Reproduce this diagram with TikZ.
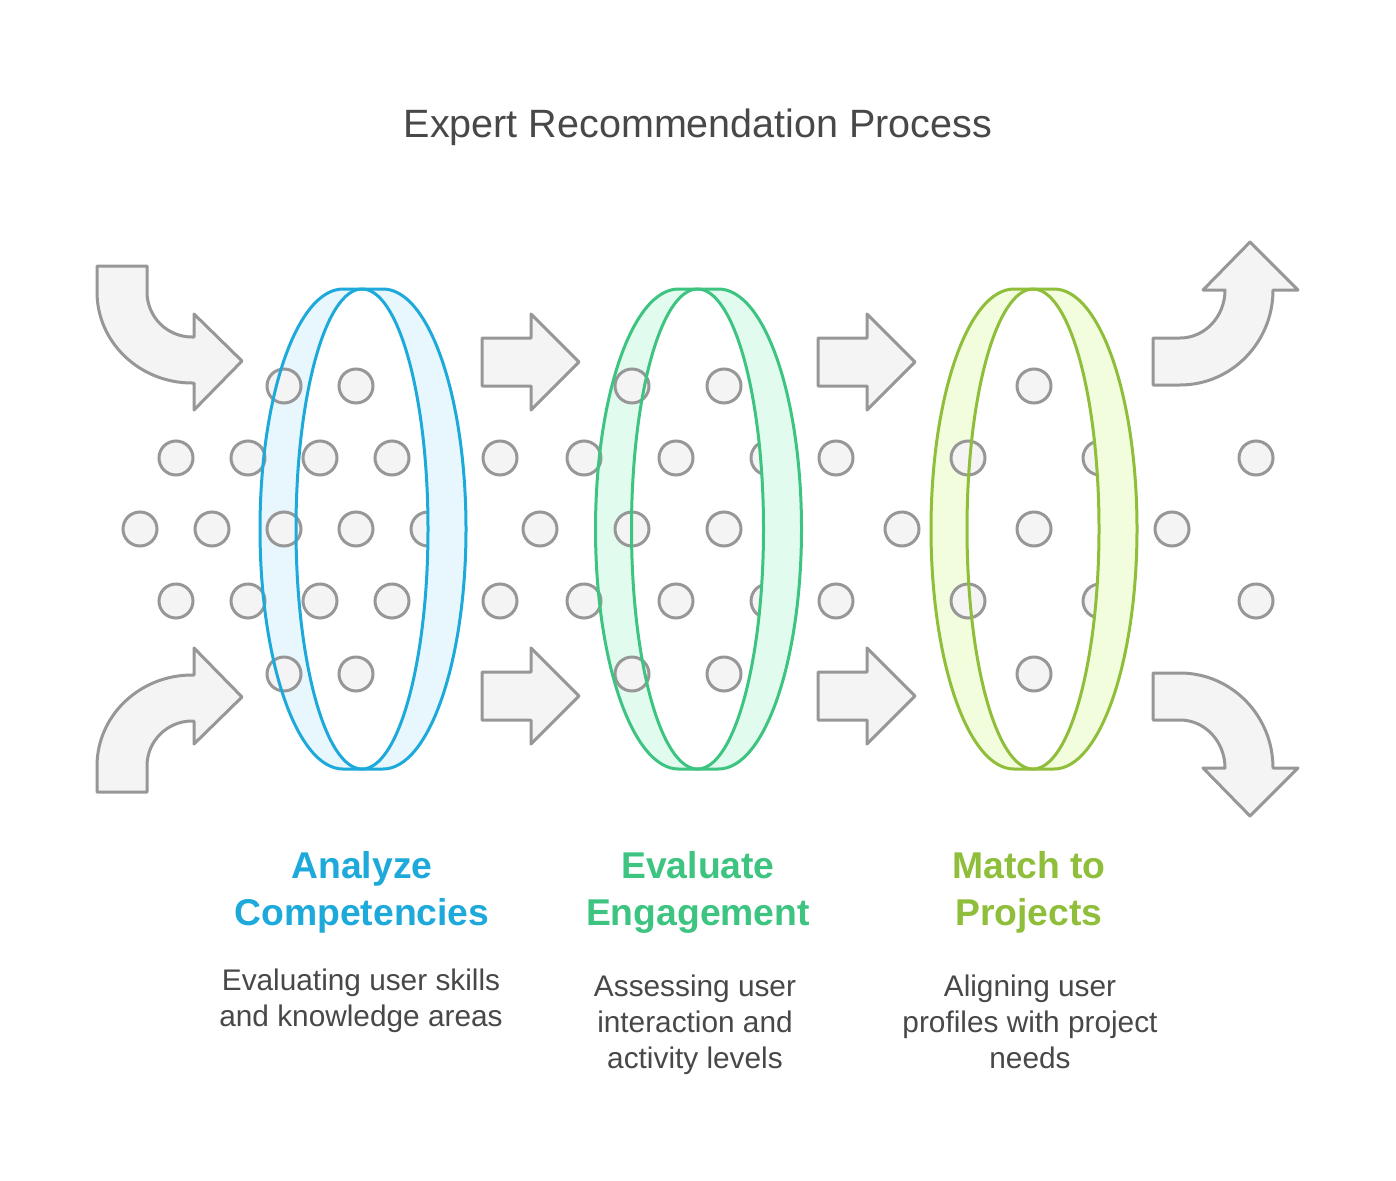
\documentclass[tikz,border=0pt]{standalone}
\usepackage{fontspec}
\setmainfont{Liberation Sans}
\definecolor{grayline}{HTML}{979797}
\definecolor{grayfill}{HTML}{F4F4F4}
\definecolor{txt}{HTML}{484848}
\definecolor{blueline}{HTML}{1DAADB}
\definecolor{bluefill}{HTML}{E8F7FD}
\definecolor{greenline}{HTML}{3CC480}
\definecolor{greenfill}{HTML}{E1FBEF}
\definecolor{limeline}{HTML}{8FBE3A}
\definecolor{limefill}{HTML}{F2FDDD}
\newcommand\myringback[2]{%
  \fill[#2, even odd rule] ({#1+21},-289) -- ({#1-19},-289)
    arc[start angle=90, end angle=270, x radius=83, y radius=240]
    -- ({#1+21},-769)
    arc[start angle=-90, end angle=90, x radius=83, y radius=240] -- cycle
    ({#1},-529) ellipse [x radius=66, y radius=240];}
\newcommand\myringfront[3]{%
  \fill[#3] ({#1},-289) -- ({#1+21},-289)
    arc[start angle=90, end angle=-90, x radius=83, y radius=240]
    -- ({#1},-769)
    arc[start angle=-90, end angle=90, x radius=66, y radius=240] -- cycle;
  \draw[ringline=#2] ({#1+21},-289) -- ({#1-19},-289)
    arc[start angle=90, end angle=270, x radius=83, y radius=240]
    -- ({#1+21},-769)
    arc[start angle=-90, end angle=90, x radius=83, y radius=240] -- cycle;
  \draw[ringline=#2] ({#1},-529) ellipse [x radius=66, y radius=240];}
\begin{document}
\begin{tikzpicture}[x=1pt, y=1pt,
  garrow/.style={draw=grayline, fill=grayfill, line width=3pt, line join=round},
  dot/.style={circle, draw=grayline, fill=grayfill, line width=3pt, minimum size=34pt, inner sep=0pt},
  ringline/.style={draw=#1, line width=3pt},
  titletext/.style={anchor=base, text=txt, font=\fontsize{39.5}{47}\selectfont},
  headtext/.style={anchor=base, font=\fontsize{37.3}{46}\selectfont\bfseries},
  bodytext/.style={anchor=base, text=txt, font=\fontsize{29.8}{36}\selectfont}]
\useasboundingbox (0,0) rectangle (1396,-1180);
\fill[white] (0,0) rectangle (1396,-1180);

% title
\node[titletext] (title) at (698,-137) {Expert Recommendation Process};

% back parts of rings
\myringback{362}{bluefill}
\myringback{697.5}{greenfill}
\myringback{1033}{limefill}

% gray curved and straight arrows
\draw[garrow] (97,-266) -- (147,-266) -- (147,-292)
  arc[start angle=180, end angle=270, x radius=45, y radius=45]
  -- (194,-337) -- (194,-314) -- (242,-361) -- (194,-410) -- (194,-383) -- (192,-383)
  arc[start angle=270, end angle=180, x radius=95, y radius=91] -- cycle;
\draw[garrow] (97,-792) -- (147,-792) -- (147,-766)
  arc[start angle=180, end angle=90, x radius=45, y radius=45]
  -- (194,-721) -- (194,-744) -- (242,-697) -- (194,-648) -- (194,-675) -- (192,-675)
  arc[start angle=90, end angle=180, x radius=95, y radius=91] -- cycle;
\foreach \dx in {0,336}{
  \draw[garrow] (482+\dx,-338) -- (531+\dx,-338) -- (531+\dx,-314) -- (579+\dx,-362)
    -- (531+\dx,-410) -- (531+\dx,-386) -- (482+\dx,-386) -- cycle;
  \draw[garrow] (482+\dx,-672) -- (531+\dx,-672) -- (531+\dx,-648) -- (579+\dx,-696)
    -- (531+\dx,-744) -- (531+\dx,-720) -- (482+\dx,-720) -- cycle;
}
\draw[garrow] (1153,-338) -- (1180,-338)
  arc[start angle=270, end angle=360, x radius=45, y radius=48]
  -- (1203,-290) -- (1250,-242) -- (1298,-290) -- (1273,-290)
  arc[start angle=0, end angle=-90, x radius=93, y radius=95]
  -- (1153,-385) -- cycle;
\draw[garrow] (1153,-720) -- (1180,-720)
  arc[start angle=90, end angle=0, x radius=45, y radius=48]
  -- (1203,-768) -- (1250,-816) -- (1298,-768) -- (1273,-768)
  arc[start angle=0, end angle=90, x radius=93, y radius=95]
  -- (1153,-673) -- cycle;

% dots
\foreach \x/\y [count=\i] in {
  284/386, 356/386, 632/386, 724/386, 1034/386,
  176/458, 248/458, 320/458, 392/458, 500/458, 584/458, 676/458, 768/458, 836/458, 968/458, 1100/458, 1256/458,
  140/529, 212/529, 284/529, 356/529, 428/529, 540/529, 632/529, 724/529, 902/529, 1034/529, 1172/529,
  176/601, 248/601, 320/601, 392/601, 500/601, 584/601, 676/601, 768/601, 836/601, 968/601, 1100/601, 1256/601,
  284/674, 356/674, 632/674, 724/674, 1034/674}
  \node[dot] (dot\i) at (\x,-\y) {};

% front parts of rings
\myringfront{362}{blueline}{bluefill}
\myringfront{697.5}{greenline}{greenfill}
\myringfront{1033}{limeline}{limefill}

% headings
\node[headtext, text=blueline] (h1a) at (362,-878) {Analyze};
\node[headtext, text=blueline] (h1b) at (362,-925) {Competencies};
\node[headtext, text=greenline] (h2a) at (698,-878) {Evaluate};
\node[headtext, text=greenline] (h2b) at (698,-925) {Engagement};
\node[headtext, text=limeline] (h3a) at (1029,-878) {Match to};
\node[headtext, text=limeline] (h3b) at (1029,-925) {Projects};

% descriptions
\node[bodytext] (b1a) at (361,-990) {Evaluating user skills};
\node[bodytext] (b1b) at (361,-1026) {and knowledge areas};
\node[bodytext] (b2a) at (695,-996) {Assessing user};
\node[bodytext] (b2b) at (695,-1032) {interaction and};
\node[bodytext] (b2c) at (695,-1068) {activity levels};
\node[bodytext] (b3a) at (1030,-996) {Aligning user};
\node[bodytext] (b3b) at (1030,-1032) {profiles with project};
\node[bodytext] (b3c) at (1030,-1068) {needs};
\end{tikzpicture}
\end{document}
